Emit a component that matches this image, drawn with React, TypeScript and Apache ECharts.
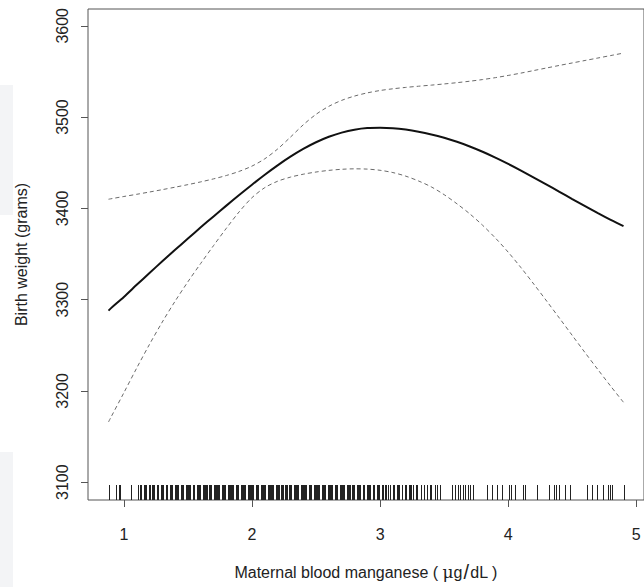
import React, { useEffect, useRef } from "react";
import * as echarts from "echarts";

// x positions of the fitted curve samples
const xGrid = [0.88, 0.9, 1.0, 1.1, 1.2, 1.3, 1.4, 1.5, 1.6, 1.7, 1.8, 1.9, 2.0, 2.1, 2.2, 2.3, 2.4, 2.5, 2.6, 2.7, 2.8, 2.9, 3.0, 3.1, 3.2, 3.3, 3.4, 3.5, 3.6, 3.7, 3.8, 3.9, 4.0, 4.1, 4.2, 4.3, 4.4, 4.5, 4.6, 4.7, 4.8, 4.9];
// fitted birth weight (solid)
const fitValues = [3288, 3290.7, 3303, 3316.2, 3329.2, 3342, 3354.6, 3367, 3379.2, 3391.2, 3403, 3414.6, 3425.9, 3436.8, 3447.1, 3456.6, 3465.1, 3472.4, 3478.4, 3483, 3486.2, 3488, 3488.3, 3487.8, 3486.3, 3484, 3481, 3477.3, 3472.9, 3467.8, 3462, 3455.6, 3448.7, 3441.4, 3433.8, 3426, 3418.1, 3410.2, 3402.4, 3394.7, 3387.3, 3380.5];
// upper confidence band (dashed)
const upperValues = [3410, 3410.5, 3413, 3415.4, 3417.9, 3420.5, 3423.2, 3426, 3429, 3432.3, 3436, 3440.5, 3446.3, 3454.3, 3465, 3478, 3491.5, 3503, 3511.8, 3518.3, 3523, 3526.5, 3529.1, 3531, 3532.5, 3533.8, 3535, 3536.3, 3537.7, 3539.3, 3541.1, 3543.2, 3545.6, 3548.2, 3551, 3553.8, 3556.6, 3559.3, 3562, 3564.7, 3567.4, 3570.1];
// lower confidence band (dashed)
const lowerValues = [3166, 3171.4, 3198, 3225, 3251, 3275.5, 3298.3, 3319.6, 3339.7, 3359.2, 3378.2, 3396.2, 3411.7, 3422.7, 3429.7, 3434.2, 3437.4, 3439.8, 3441.6, 3442.8, 3443.3, 3443, 3441.7, 3439.2, 3435.3, 3430, 3423.5, 3415, 3405, 3394, 3381.5, 3367.5, 3352, 3335, 3317, 3298.5, 3279.7, 3260.8, 3241.9, 3223.4, 3205.2, 3187.5];

// observed exposure values (rug)
const rugValues = [
  0.883, 0.94, 0.959, 0.971, 1.052,
  1.109, 1.125, 1.133, 1.155, 1.163, 1.171, 1.193, 1.201, 1.223, 1.231, 1.239, 1.261, 1.269, 1.291, 1.299, 1.307,
  1.329, 1.337, 1.359, 1.367, 1.375,
  1.400, 1.408, 1.416, 1.424, 1.446, 1.454, 1.462, 1.484, 1.492, 1.500, 1.508, 1.516, 1.538, 1.546,
  1.568, 1.576, 1.584, 1.592, 1.614, 1.622, 1.630, 1.638, 1.646, 1.668, 1.676, 1.684,
  1.706, 1.714, 1.722, 1.730, 1.738, 1.746, 1.768, 1.776, 1.784, 1.792,
  1.814, 1.822, 1.830, 1.838, 1.846, 1.854, 1.876, 1.884, 1.892,
  1.914, 1.922, 1.930, 1.938, 1.946, 1.968, 1.976, 1.984, 1.992, 2.000, 2.008, 2.030, 2.038, 2.046,
  2.068, 2.076, 2.084, 2.092, 2.100, 2.122, 2.130, 2.138, 2.146, 2.154, 2.162, 2.184, 2.192, 2.200, 2.208,
  2.230, 2.238, 2.246, 2.254, 2.262, 2.270, 2.292, 2.300, 2.308, 2.330, 2.338, 2.346, 2.354, 2.362,
  2.384, 2.392, 2.400, 2.408, 2.416, 2.424, 2.446, 2.454, 2.462,
  2.484, 2.492, 2.500, 2.508, 2.516, 2.524, 2.546, 2.554, 2.562, 2.570,
  2.592, 2.600, 2.608, 2.616, 2.624, 2.646, 2.654, 2.662,
  2.684, 2.692, 2.700, 2.708, 2.716, 2.738, 2.746, 2.754, 2.762, 2.784, 2.792, 2.800,
  2.822, 2.830, 2.838, 2.846, 2.868, 2.876, 2.898, 2.906, 2.914, 2.922, 2.944, 2.952,
  2.974, 2.982, 2.990, 3.012, 3.020, 3.042, 3.050, 3.058, 3.080, 3.102, 3.110,
  3.132, 3.140, 3.148, 3.170, 3.192, 3.200, 3.222, 3.230, 3.238, 3.260, 3.282, 3.290,
  3.320, 3.342, 3.370, 3.392, 3.400,
  3.431, 3.444, 3.470, 3.561, 3.587, 3.608, 3.626, 3.644, 3.665, 3.685, 3.704, 3.722,
  3.838, 3.872, 3.911, 3.950, 4.007, 4.022, 4.053, 4.118, 4.131, 4.227,
  4.318, 4.357, 4.372, 4.395, 4.442, 4.481,
  4.616, 4.655, 4.696, 4.740, 4.779, 4.792, 4.810, 4.901,
];

const xTicks = [1, 2, 3, 4, 5];
const yTicks = [3100, 3200, 3300, 3400, 3500, 3600];

export default function App() {
  const ref = useRef<HTMLDivElement>(null);

  useEffect(() => {
    if (!ref.current) return;
    const chart = echarts.init(ref.current, null, { renderer: "svg" });
    const font = "'Liberation Sans', Arial, Helvetica, sans-serif";
    const Y_MIN = 3080.5;
    const Y_MAX = 3618.4;
    const axisColor = "#555";
    const textColor = "#222";

    const toPairs = (vals: number[]) => xGrid.map((x, i) => [x, vals[i]]);

    chart.setOption({
      animation: false,
      backgroundColor: "#ffffff",
      graphic: [
        { type: "rect", z: -10, shape: { x: 0, y: 85, width: 13, height: 130 }, style: { fill: "#f3f4f6" }, silent: true },
        { type: "rect", z: -10, shape: { x: 0, y: 452, width: 13, height: 135 }, style: { fill: "#f3f4f6" }, silent: true },
      ],
      grid: {
        left: 88,
        top: 9,
        width: 558,
        height: 497,
        show: true,
        borderColor: axisColor,
        borderWidth: 1,
        backgroundColor: "transparent",
      },
      xAxis: {
        type: "value",
        min: 0.72,
        max: 5.06,
        axisLine: { show: false, onZero: false },
        splitLine: { show: false },
        axisTick: { show: true, length: 7, customValues: xTicks, lineStyle: { color: axisColor } },
        axisLabel: {
          customValues: xTicks,
          margin: 26,
          fontSize: 16,
          color: textColor,
          fontFamily: font,
          formatter: (v: number) => String(v),
        },
        name: "Maternal blood manganese ( {mu|μ}g{sl|/}dL )",
        nameLocation: "middle",
        nameGap: 62,
        nameTextStyle: {
          fontSize: 16,
          color: textColor,
          fontFamily: font,
          rich: {
            mu: { fontSize: 17, fontFamily: "'DejaVu Serif', serif", color: textColor },
            sl: { fontSize: 20, color: textColor, fontFamily: font, padding: [0, 1, 0, 1] },
          },
        },
      },
      yAxis: {
        type: "value",
        min: Y_MIN,
        max: Y_MAX,
        axisLine: { show: false, onZero: false },
        splitLine: { show: false },
        axisTick: { show: true, length: 7, customValues: yTicks, lineStyle: { color: axisColor } },
        axisLabel: {
          customValues: yTicks,
          rotate: 90,
          margin: 18,
          fontSize: 16,
          color: textColor,
          fontFamily: font,
          formatter: (v: number) => String(v),
        },
        name: "Birth weight (grams)",
        nameLocation: "middle",
        nameGap: 59,
        nameTextStyle: { fontSize: 16, color: textColor, fontFamily: font },
      },
      series: [
        {
          type: "line",
          name: "upper",
          data: toPairs(upperValues),
          smooth: 0.3,
          showSymbol: false,
          silent: true,
          lineStyle: { color: "#6a6a6a", width: 1, type: [4, 3] },
        },
        {
          type: "line",
          name: "lower",
          data: toPairs(lowerValues),
          smooth: 0.3,
          showSymbol: false,
          silent: true,
          lineStyle: { color: "#6a6a6a", width: 1, type: [4, 3] },
        },
        {
          type: "line",
          name: "fit",
          data: toPairs(fitValues),
          smooth: 0.3,
          showSymbol: false,
          silent: true,
          lineStyle: { color: "#111111", width: 2 },
        },
        {
          type: "custom",
          name: "rug",
          silent: true,
          data: rugValues.map((v) => [v, Y_MIN]),
          encode: { x: 0, y: 1 },
          renderItem: (params: any, api: any) => {
            const p = api.coord([api.value(0), Y_MIN]);
            const x = Math.round(p[0]) + 0.5;
            return {
              type: "line",
              shape: { x1: x, y1: p[1], x2: x, y2: p[1] - 15 },
              style: { stroke: "#222", lineWidth: 1 },
            };
          },
        },
      ],
    });

    return () => {
      chart.dispose();
    };
  }, []);

  return (
    <div
      ref={ref}
      style={{ position: "fixed", left: 0, top: 0, width: 644, height: 587, background: "#fff" }}
    />
  );
}
